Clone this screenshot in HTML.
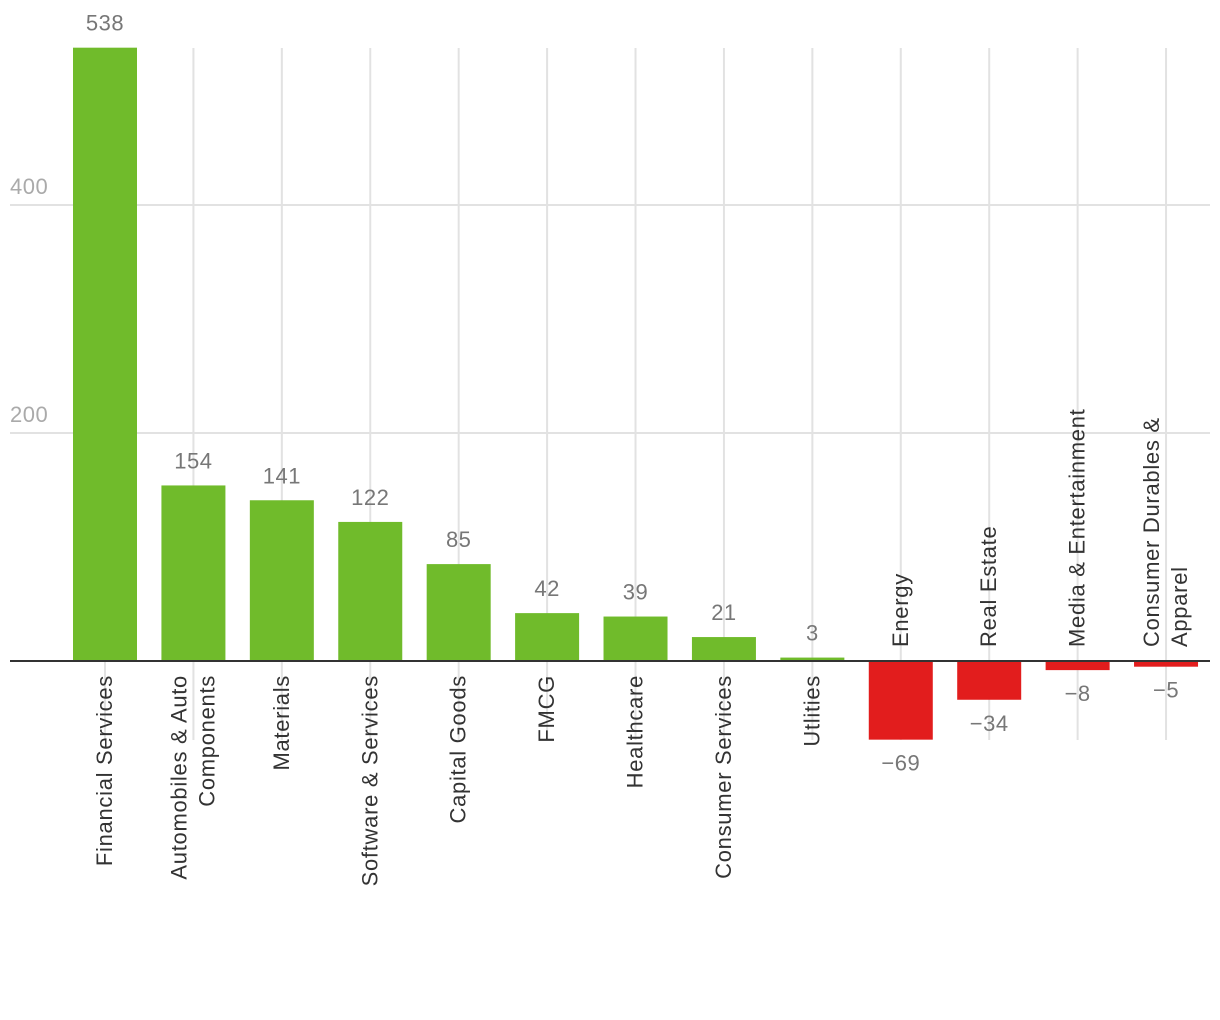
<!DOCTYPE html>
<html><head><meta charset="utf-8"><style>
html,body{margin:0;padding:0;background:#fff;}
svg{display:block;font-family:"Liberation Sans",sans-serif;}
</style></head><body>
<svg id="chart" width="1220" height="1020" viewBox="0 0 1220 1020"></svg>
<script>
const categories = ["Financial Services","Automobiles & Auto|Components","Materials","Software & Services","Capital Goods","FMCG","Healthcare","Consumer Services","Utlities","Energy","Real Estate","Media & Entertainment","Consumer Durables &|Apparel"];
const values = [538,154,141,122,85,42,39,21,3,-69,-34,-8,-5];
const yTicks = [200,400];

const NS="http://www.w3.org/2000/svg";
const svg=document.getElementById('chart');
const zeroY=661, pxPerUnit=228/200, x0=105, step=88.42, barW=64;
const y=v=>zeroY-v*pxPerUnit;
const xc=i=>x0+i*step;
function mk(tag,attrs,parent){const e=document.createElementNS(NS,tag);for(const k in attrs)e.setAttribute(k,attrs[k]);(parent||svg).appendChild(e);return e;}

yTicks.forEach(t=>{
  const g=mk('line',{x1:10,x2:1210,y1:y(t),y2:y(t),stroke:'#e2e2e2','stroke-width':2});
  
  
  const tx=mk('text',{x:10,y:y(t)-11,fill:'#aaa','font-size':22,'letter-spacing':0.5});
  tx.textContent=t;
  
  
});
categories.forEach((c,i)=>{
  const g=mk('line',{x1:xc(i),x2:xc(i),y1:48,y2:740,stroke:'#e2e2e2','stroke-width':2});
  
  
});
values.forEach((v,i)=>{
  const top=Math.min(y(v),zeroY), h=Math.abs(y(v)-zeroY);
  const r=mk('rect',{x:xc(i)-barW/2,y:top,width:barW,height:h,fill:v>=0?'#70bb2b':'#e21d1d'});
  
  
  const lbl=mk('text',{x:xc(i),y:v>=0?y(v)-17:y(v)+31,'text-anchor':'middle',fill:'#777','font-size':22,'letter-spacing':0.5});
  lbl.textContent=v<0?'\u2212'+Math.abs(v):v;
  
  
});
const z=mk('line',{x1:10,x2:1210,y1:zeroY,y2:zeroY,stroke:'#333','stroke-width':2});


categories.forEach((c,i)=>{
  const lines=c.split('|'), neg=values[i]<0;
  const ay=neg?647:675;
  const t=mk('text',{transform:`translate(${xc(i)},${ay}) rotate(-90)`,'text-anchor':neg?'start':'end',fill:'#333','font-size':22,'letter-spacing':0.7});
  const n=lines.length;
  lines.forEach((ln,k)=>{
    const ts=mk('tspan',{x:0,y:(k-(n-1)/2)*28+7},t);
    ts.textContent=ln;
  });
  
  
});
</script>
</body></html>
